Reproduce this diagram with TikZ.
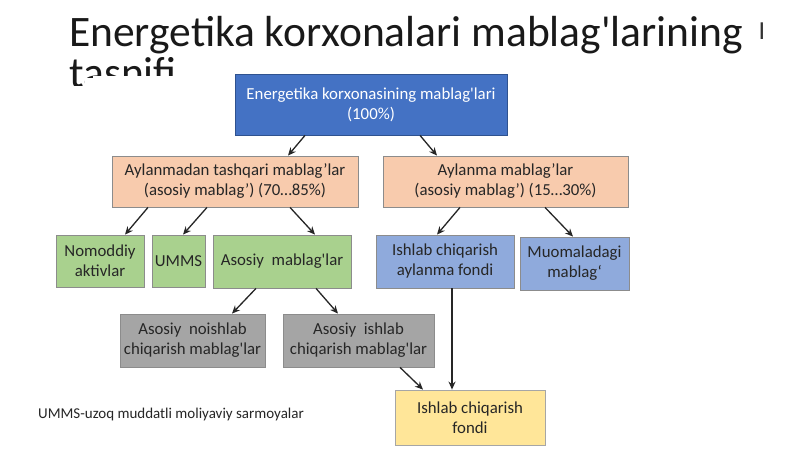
\documentclass[tikz,border=0pt]{standalone}
\usepackage{fontspec}
\setmainfont{Carlito}[Ligatures=TeXOff]
\usetikzlibrary{arrows.meta}
\definecolor{topblue}{HTML}{4472C4}
\definecolor{topbord}{HTML}{2F528F}
\definecolor{orng}{HTML}{F8CBAD}
\definecolor{grn}{HTML}{A9D18E}
\definecolor{lblue}{HTML}{8FAADC}
\definecolor{gry}{HTML}{A5A5A5}
\definecolor{yel}{HTML}{FFE699}
\definecolor{txt}{HTML}{262626}
\tikzset{
  box/.style={draw=black!45, line width=0.8pt, align=center, inner sep=1pt,
    font=\fontsize{16.8}{20}\selectfont, text=txt},
  arr/.style={draw=black!85, line width=1.3pt, -{Stealth[length=8pt,width=7pt]}},
}
\begin{document}
\begin{tikzpicture}[x=1pt,y=-1pt]
\useasboundingbox[fill=white] (0,0) rectangle (800,449);
% title
\node[anchor=base west, inner sep=0, text=black!90, font=\fontsize{43.5}{46}\selectfont] (t1) at (69,47) {Energetika korxonalari mablag'larining};
\begin{scope}
\clip (0,57) -- (800,57) -- (800,76) -- (92,76) -- (92,78) -- (84,78) -- (84,86) -- (0,86) -- cycle;
\node[anchor=base west, inner sep=0, text=black!90, font=\fontsize{43.5}{46}\selectfont] (t2) at (69,88) {tasnifi};
\end{scope}
\node[inner sep=0, font=\fontsize{26}{26}\selectfont, text=black!80] (cur) at (762,31) {\rmfamily I};
% boxes
\node[box, fill=topblue, draw=topbord, text=white, minimum width=272, minimum height=61] (top) at (371,104.5) {Energetika korxonasining mablag'lari\\(100\%)};
\node[box, fill=orng, minimum width=246, minimum height=51] (lor) at (235,181.5) {Aylanmadan tashqari mablag’lar\\(asosiy mablag’) (70…85\%)};
\node[box, fill=orng, minimum width=245, minimum height=51] (ror) at (505.5,181.5) {Aylanma mablag’lar\\(asosiy mablag’) (15…30\%)};
\node[box, fill=grn, minimum width=88, minimum height=52] (nom) at (100,261) {Nomoddiy\\aktivlar};
\node[box, fill=grn, minimum width=53, minimum height=52] (umms) at (178.5,261) {UMMS};
\node[box, fill=grn, minimum width=138, minimum height=53] (asos) at (282,261.5) {Asosiy\ \ mablag'lar};
\node[box, fill=lblue, minimum width=138, minimum height=53] (ica) at (445,261.5) {Ishlab chiqarish\\aylanma fondi};
\node[box, fill=lblue, minimum width=109, minimum height=53] (muo) at (574.5,263.5) {Muomaladagi\\mablag‘};
\node[box, fill=gry, minimum width=145, minimum height=53] (noi) at (192.5,340.5) {Asosiy\ \ noishlab\\chiqarish mablag'lar};
\node[box, fill=gry, minimum width=151, minimum height=53] (ish) at (358.5,340.5) {Asosiy\ \ ishlab\\chiqarish mablag'lar};
\node[box, fill=yel, draw=black!35, minimum width=150, minimum height=55] (yfond) at (470,417.5) {Ishlab chiqarish\\fondi};
% footnote
\node[anchor=base west, inner sep=0, text=txt, font=\fontsize{15}{18}\selectfont] (foot) at (38,418) {UMMS-uzoq muddatli moliyaviy sarmoyalar};
% arrows
\draw[arr] ([xshift=-66]top.south) -- ([xshift=53]lor.north);
\draw[arr] ([xshift=49]top.south) -- ([xshift=-68.5]ror.north);
\draw[arr] ([xshift=-87]lor.south) -- ([xshift=25]nom.north);
\draw[arr] ([xshift=-28]lor.south) -- ([xshift=4.5]umms.north);
\draw[arr] ([xshift=55]lor.south) -- ([xshift=33]asos.north);
\draw[arr] ([xshift=-45.5]ror.south) -- ([xshift=-8]ica.north);
\draw[arr] ([xshift=39.5]ror.south) -- ([xshift=-1.5]muo.north);
\draw[arr] ([xshift=-26]asos.south) -- ([xshift=39.5]noi.north);
\draw[arr] ([xshift=34]asos.south) -- ([xshift=-20.5]ish.north);
\draw[arr] ([xshift=41.5]ish.south) -- ([xshift=-47]yfond.north);
\draw[arr] ([xshift=7]ica.south) -- ([xshift=-18]yfond.north);
\end{tikzpicture}
\end{document}
